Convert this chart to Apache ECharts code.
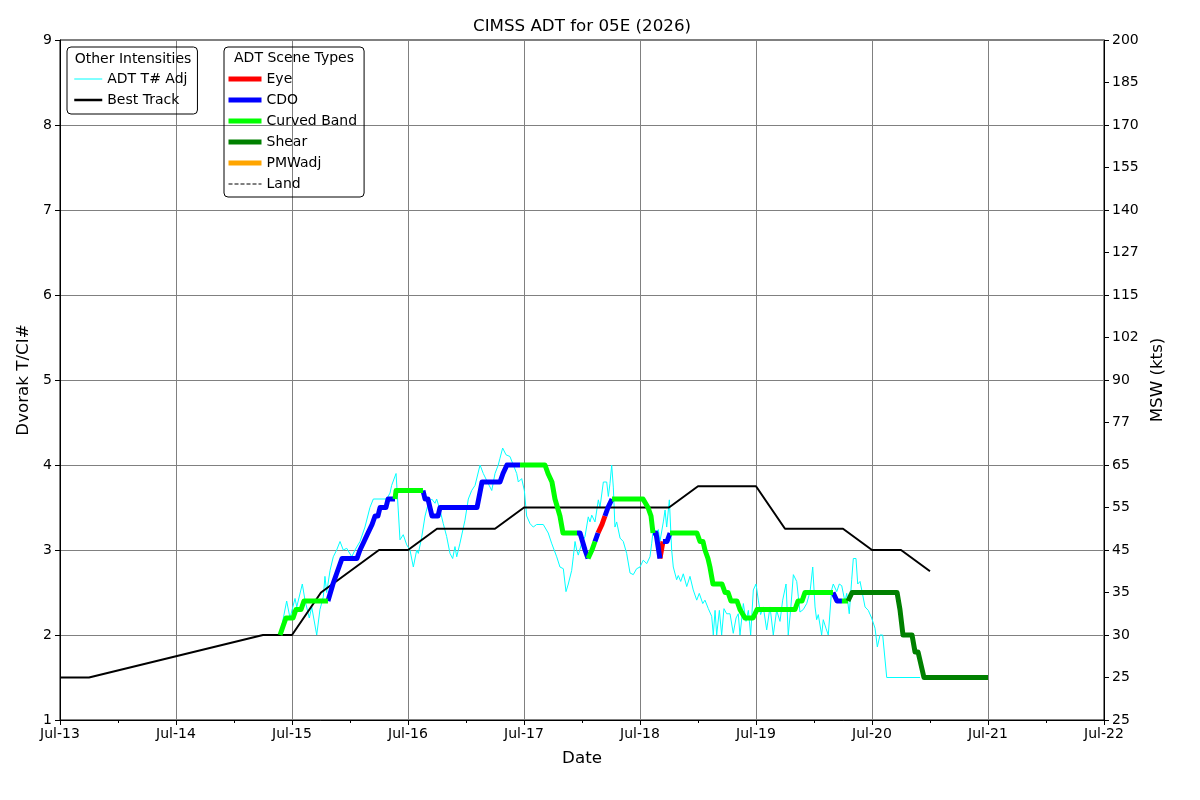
<!DOCTYPE html>
<html><head><meta charset="utf-8">
<script src="https://cdn.jsdelivr.net/npm/echarts@6/dist/echarts.min.js"></script>
<style>html,body{margin:0;padding:0;background:#fff}#c{width:1200px;height:800px}</style>
</head><body><div id="c"></div>
<script>
// x positions are days since Jul-13 00Z
const dayLabels = ['Jul-13','Jul-14','Jul-15','Jul-16','Jul-17','Jul-18','Jul-19','Jul-20','Jul-21','Jul-22'];
const mswLabels = ['25','25','30','35','45','55','65','77','90','102','115','127','140','155','170','185','200'];

const bestTrackTime = [0,0.25,1.75,2.0,2.25,2.5,2.75,3.0,3.25,3.75,4.0,5.25,5.5,6.0,6.25,6.75,7.0,7.25,7.5];
const bestTrackTno  = [1.5,1.5,2.0,2.0,2.5,2.75,3.0,3.0,3.25,3.25,3.5,3.5,3.75,3.75,3.25,3.25,3.0,3.0,2.75];

const adjTime = [
 1.897,1.954,1.983,2.026,2.041,2.089,2.112,2.149,2.170,2.213,
 2.241,2.270,2.284,2.299,2.328,2.356,2.385,2.414,2.442,2.472,
 2.515,2.543,2.586,2.629,2.672,2.701,2.816,2.845,2.859,2.897,
 2.916,2.931,2.959,2.989,3.017,3.046,3.075,3.089,3.118,3.147,
 3.175,3.204,3.233,3.247,3.276,3.304,3.333,3.362,3.385,3.405,
 3.420,3.448,3.491,3.520,3.549,3.578,3.621,3.649,3.692,3.722,
 3.750,3.778,3.793,3.816,3.845,3.879,3.908,3.937,3.951,3.980,
 4.003,4.023,4.052,4.080,4.109,4.166,4.209,4.238,4.282,4.310,
 4.339,4.362,4.382,4.411,4.425,4.440,4.454,4.468,4.497,4.526,
 4.554,4.569,4.584,4.612,4.641,4.655,4.684,4.713,4.727,4.741,
 4.756,4.770,4.784,4.799,4.828,4.856,4.885,4.914,4.942,4.971,
 5.000,5.028,5.058,5.086,5.101,5.115,5.129,5.158,5.172,5.201,
 5.216,5.230,5.253,5.273,5.287,5.316,5.330,5.351,5.373,5.403,
 5.431,5.459,5.489,5.511,5.541,5.560,5.589,5.618,5.632,5.647,
 5.661,5.684,5.704,5.724,5.747,5.776,5.804,5.828,5.847,5.862,
 5.891,5.914,5.934,5.954,5.977,6.000,6.020,6.040,6.063,6.092,
 6.121,6.149,6.178,6.207,6.230,6.259,6.278,6.299,6.322,6.351,
 6.365,6.379,6.408,6.437,6.466,6.489,6.509,6.523,6.537,6.566,
 6.580,6.603,6.623,6.652,6.666,6.696,6.718,6.739,6.767,6.782,
 6.804,6.825,6.839,6.862,6.877,6.897,6.920,6.940,6.968,6.997,
 7.026,7.046,7.069,7.092,7.127,7.414];
const adjTno = [
 2.0,2.4,2.2,2.43,2.33,2.6,2.41,2.2,2.33,2.0,
 2.3,2.45,2.69,2.5,2.76,2.92,3.0,3.1,3.0,3.02,
 2.92,3.0,3.1,3.27,3.5,3.6,3.6,3.67,3.76,3.9,
 3.47,3.12,3.18,3.06,3.0,2.8,3.0,2.96,3.15,3.4,
 3.55,3.6,3.55,3.6,3.47,3.31,3.16,2.96,2.9,3.04,
 2.92,3.08,3.35,3.6,3.7,3.76,4.0,3.9,3.78,3.7,
 3.9,4.0,4.08,4.2,4.12,4.1,4.0,3.9,3.8,3.84,
 3.7,3.4,3.31,3.27,3.3,3.3,3.2,3.08,2.92,2.8,
 2.78,2.51,2.6,2.76,2.92,3.1,3.0,2.94,3.08,3.16,
 3.39,3.33,3.41,3.33,3.59,3.5,3.8,3.8,3.63,3.78,
 4.0,3.74,3.27,3.33,3.14,3.1,2.96,2.73,2.71,2.78,
 2.8,2.88,2.84,2.92,3.08,3.25,3.2,3.24,3.1,3.33,
 3.47,3.27,3.59,3.0,2.8,2.65,2.7,2.63,2.72,2.57,
 2.69,2.53,2.41,2.49,2.37,2.41,2.31,2.22,2.0,2.29,
 2.0,2.29,2.0,2.31,2.25,2.25,2.02,2.2,2.25,2.0,
 2.37,2.16,2.29,2.0,2.53,2.6,2.41,2.24,2.33,2.06,
 2.33,2.0,2.29,2.16,2.41,2.6,2.0,2.3,2.71,2.63,
 2.45,2.27,2.3,2.37,2.51,2.8,2.33,2.18,2.24,2.0,
 2.18,2.08,2.0,2.53,2.6,2.51,2.6,2.58,2.39,2.49,
 2.25,2.65,2.9,2.9,2.6,2.63,2.47,2.33,2.29,2.2,
 2.08,1.86,2.0,2.0,1.5,1.5];

const finalTime = [
 1.897,1.922,1.948,2.009,2.034,2.078,2.103,2.310,
 2.353,2.379,2.431,2.560,2.586,2.621,2.655,2.690,2.716,2.741,2.759,2.810,2.828,2.888,
 2.897,3.129,
 3.147,3.172,3.207,3.259,3.276,3.595,3.638,3.793,3.819,3.853,3.966,
 4.181,4.207,4.241,4.267,4.284,4.310,4.336,4.457,
 4.483,4.526,4.552,
 4.586,4.612,
 4.638,
 4.672,4.698,
 4.724,4.759,
 5.026,5.069,5.095,5.112,
 5.138,5.172,
 5.198,
 5.233,5.259,
 5.491,5.517,5.543,5.560,5.586,5.603,5.629,5.707,5.733,5.759,5.784,5.836,5.862,5.905,5.974,6.009,6.336,6.362,6.397,6.422,6.664,
 6.698,6.741,
 6.793,
 6.828,7.216,7.241,7.267,7.345,7.371,7.397,7.448,8.0];
const finalTno = [
 2.0,2.1,2.2,2.2,2.3,2.3,2.4,2.4,
 2.6,2.7,2.9,2.9,3.0,3.1,3.2,3.3,3.4,3.4,3.5,3.5,3.6,3.6,
 3.7,3.7,
 3.6,3.6,3.4,3.4,3.5,3.5,3.8,3.8,3.9,4.0,4.0,
 4.0,3.9,3.8,3.6,3.6,3.4,3.2,3.2,
 3.2,3.0,2.9,
 3.0,3.1,
 3.2,
 3.3,3.4,
 3.5,3.6,
 3.6,3.5,3.4,3.2,
 3.2,2.9,
 3.1,
 3.1,3.2,
 3.2,3.1,3.1,3.0,2.9,2.8,2.6,2.6,2.5,2.5,2.4,2.4,2.3,2.2,2.2,2.3,2.3,2.4,2.4,2.5,2.5,
 2.4,2.4,
 2.4,
 2.5,2.5,2.3,2.0,2.0,1.8,1.8,1.5,1.5];
const finalScene = [
 'CB','CB','CB','CB','CB','CB','CB','CB',
 'CDO','CDO','CDO','CDO','CDO','CDO','CDO','CDO','CDO','CDO','CDO','CDO','CDO','CDO',
 'CB','CB',
 'CDO','CDO','CDO','CDO','CDO','CDO','CDO','CDO','CDO','CDO','CDO',
 'CB','CB','CB','CB','CB','CB','CB','CB',
 'CDO','CDO','CDO',
 'CB','CB',
 'CDO',
 'EYE','EYE',
 'CDO','CDO',
 'CB','CB','CB','CB',
 'CDO','CDO',
 'EYE',
 'CDO','CDO',
 'CB','CB','CB','CB','CB','CB','CB','CB','CB','CB','CB','CB','CB','CB','CB','CB','CB','CB','CB','CB','CB',
 'CDO','CDO',
 'CB',
 'SHR','SHR','SHR','SHR','SHR','SHR','SHR','SHR','SHR'];

const sceneNames = {EYE:'Eye', CDO:'CDO', CB:'Curved Band', SHR:'Shear'};
const sceneColors = {EYE:'#ff0000', CDO:'#0000ff', CB:'#00ff00', SHR:'#008000'};

function pairs(t, v){ return t.map((x,i)=>[x, v[i]]); }
// segment i-1 -> i is coloured by scene of point i
function sceneData(type){
  const out = []; let open = false;
  for (let i = 1; i < finalTime.length; i++) {
    if (finalScene[i] === type) {
      if (!open) {
        if (out.length) out.push([finalTime[i-1], '-']);
        out.push([finalTime[i-1], finalTno[i-1]]);
        open = true;
      }
      out.push([finalTime[i], finalTno[i]]);
    } else open = false;
  }
  return out;
}

const FONT = 'DejaVu Sans';
const chart = echarts.init(document.getElementById('c'), null, {renderer:'canvas'});

const sceneSeries = ['EYE','CDO','CB','SHR'].map(k => ({
  name: sceneNames[k], type:'line', xAxisIndex:0, yAxisIndex:0,
  data: sceneData(k), symbol:'none', connectNulls:false,
  lineStyle:{color:sceneColors[k], width:5, join:'round', cap:'butt'},
  itemStyle:{color:sceneColors[k]}, z:5
}));

const legendText = {fontSize:14, color:'#000', fontFamily:FONT};
const option = {
  animation:false,
  backgroundColor:'#fff',
  textStyle:{fontFamily:FONT},
  grid:{left:60, right:96, top:40, bottom:80, show:true, borderColor:'#000', borderWidth:1, containLabel:false},
  xAxis:{
    type:'value', min:0, max:9, interval:1,
    name:'Date', nameLocation:'middle', nameGap:30,
    nameTextStyle:{fontSize:16.7, color:'#000', fontFamily:FONT},
    axisLine:{show:true, lineStyle:{color:'#000', width:1}},
    axisTick:{show:true, length:5, lineStyle:{color:'#000'}},
    minorTick:{show:true, splitNumber:2, length:3, lineStyle:{color:'#000'}},
    axisLabel:{fontSize:14, color:'#000', fontFamily:FONT, margin:7, formatter:v => dayLabels[Math.round(v)]},
    splitLine:{show:true, lineStyle:{color:'#808080', width:1}}
  },
  yAxis:[{
    type:'value', min:1, max:9, interval:1, position:'left',
    name:'Dvorak T/CI#', nameLocation:'middle', nameGap:25, nameRotate:90,
    nameTextStyle:{fontSize:16.7, color:'#000', fontFamily:FONT},
    axisLine:{show:true, lineStyle:{color:'#000'}},
    axisTick:{show:true, length:5, lineStyle:{color:'#000'}},
    axisLabel:{fontSize:14, color:'#000', fontFamily:FONT, margin:8},
    splitLine:{show:true, lineStyle:{color:'#808080', width:1}}
  },{
    type:'value', min:1, max:9, interval:0.5, position:'right',
    name:'MSW (kts)', nameLocation:'middle', nameGap:41, nameRotate:90,
    nameTextStyle:{fontSize:16.7, color:'#000', fontFamily:FONT},
    axisLine:{show:true, lineStyle:{color:'#000'}},
    axisTick:{show:true, length:5, lineStyle:{color:'#000'}},
    axisLabel:{fontSize:14, color:'#000', fontFamily:FONT, margin:8, formatter:v => mswLabels[Math.round((v-1)*2)]},
    splitLine:{show:false}
  }],
  legend:[{
    orient:'vertical', left:67, top:47, selectedMode:false,
    data:[{name:'ADT T# Adj', lineStyle:{width:1}}, {name:'Best Track', lineStyle:{width:2.5}}],
    itemWidth:28, itemHeight:14, itemGap:7, itemTextGap:10,
    itemStyle:{opacity:0, borderWidth:0},
    padding:[25,10,7,6], borderColor:'#000', borderWidth:1, borderRadius:4,
    textStyle:legendText
  },{
    orient:'vertical', left:224, top:47, selectedMode:false,
    data:[{name:'Eye', lineStyle:{width:5}}, {name:'CDO', lineStyle:{width:5}}, {name:'Curved Band', lineStyle:{width:5}},
          {name:'Shear', lineStyle:{width:5}}, {name:'PMWadj', lineStyle:{width:5}}, {name:'Land', lineStyle:{width:1, type:'dashed'}}],
    itemWidth:33, itemHeight:14, itemGap:7, itemTextGap:9,
    itemStyle:{opacity:0, borderWidth:0},
    padding:[25,7,6,2], borderColor:'#000', borderWidth:1, borderRadius:4,
    textStyle:legendText
  }],
  graphic:[
    {type:'text', z:100, style:{x:582, y:27, text:'CIMSS ADT for 05E (2026)', textAlign:'center', textVerticalAlign:'middle', font:'16.7px "DejaVu Sans"', fill:'#000'}},
    {type:'text', z:100, style:{x:133, y:59, text:'Other Intensities', textAlign:'center', textVerticalAlign:'middle', font:'14px "DejaVu Sans"', fill:'#000'}},
    {type:'text', z:100, style:{x:294, y:58, text:'ADT Scene Types', textAlign:'center', textVerticalAlign:'middle', font:'14px "DejaVu Sans"', fill:'#000'}}
  ],
  series:[
    {name:'ADT T# Adj', type:'line', data:pairs(adjTime, adjTno), symbol:'none',
     lineStyle:{color:'#00ffff', width:1}, itemStyle:{color:'#00ffff'}, z:2},
    {name:'Best Track', type:'line', data:pairs(bestTrackTime, bestTrackTno), symbol:'none',
     lineStyle:{color:'#000', width:2}, itemStyle:{color:'#000'}, z:3},
    ...sceneSeries,
    {name:'PMWadj', type:'line', data:[], symbol:'none', lineStyle:{color:'#ffa500', width:5}, itemStyle:{color:'#ffa500'}},
    {name:'Land', type:'line', data:[], symbol:'none', lineStyle:{color:'#000', width:1, type:'dashed'}, itemStyle:{color:'#000'}}
  ]
};
chart.setOption(option);
</script>
</body></html>
